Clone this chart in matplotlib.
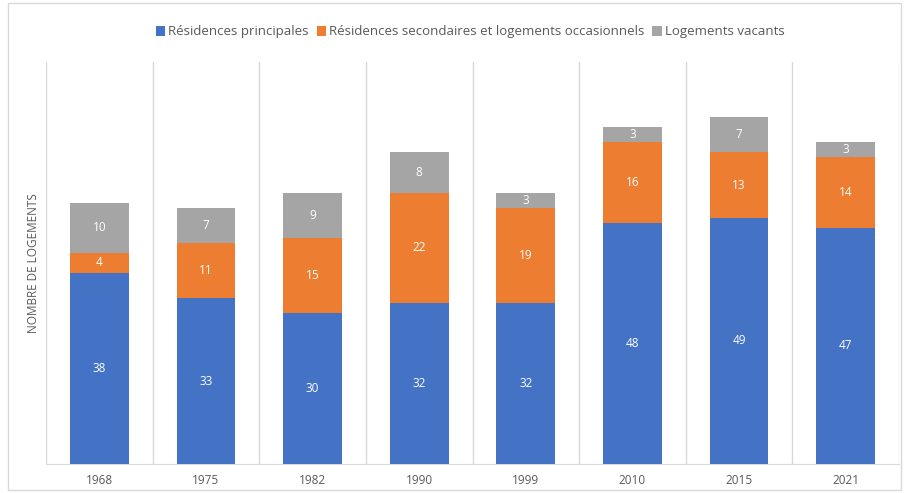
import numpy as np
import matplotlib.pyplot as plt
from matplotlib.patches import Rectangle

plt.rcParams['font.family'] = ['Open Sans', 'DejaVu Sans']

years = ["1968", "1975", "1982", "1990", "1999", "2010", "2015", "2021"]
principales = [38, 33, 30, 32, 32, 48, 49, 47]
secondaires = [4, 11, 15, 22, 19, 16, 13, 14]
vacants = [10, 7, 9, 8, 3, 3, 7, 3]

series_names = ["Résidences principales",
                "Résidences secondaires et logements occasionnels",
                "Logements vacants"]
colors = ["#4472C4", "#ED7D31", "#A5A5A5"]

fig = plt.figure(figsize=(9.06, 4.93), dpi=100)
ax = fig.add_axes([46 / 906, 29 / 493, 853 / 906, 402 / 493])

x = np.arange(len(years))
bottom = np.zeros(len(years))
handles = []
for vals, name, c in zip([principales, secondaires, vacants], series_names, colors):
    bars = ax.bar(x, vals, 0.55, bottom=bottom, color=c, label=name, zorder=3)
    handles.append(bars)
    for xi, v, b in zip(x, vals, bottom):
        ax.text(xi, b + v / 2, str(v), ha="center", va="center",
                color="white", fontsize=8.5, zorder=4)
    bottom += np.array(vals)

ax.set_xlim(-0.5, len(years) - 0.5)
ax.set_ylim(0, 80)
ax.set_yticks([])
ax.set_xticks(x)
ax.set_xticklabels(years, fontsize=8.5, color="#595959")
ax.tick_params(axis="x", length=0, pad=7)

# vertical separators between categories
for b in np.arange(-0.5, len(years), 1):
    ax.axvline(b, color="#D9D9D9", lw=1, zorder=1)

for s in ["top", "right", "left"]:
    ax.spines[s].set_visible(False)
ax.spines["bottom"].set_color("#D9D9D9")

ax.set_ylabel("NOMBRE DE LOGEMENTS", fontsize=8.5, color="#595959", labelpad=4)

fig.legend(handles=handles, labels=series_names, loc="center",
           bbox_to_anchor=(0.519, 1 - 32 / 493), ncol=3, frameon=False,
           fontsize=9.5, handlelength=0.7, handleheight=0.7,
           handletextpad=0.25, columnspacing=0.6, labelcolor="#595959")

fig.patches.append(Rectangle((8 / 906, 3 / 493), 893 / 906, 487 / 493,
                             transform=fig.transFigure, fill=False,
                             edgecolor="#D9D9D9", lw=1))

fig.savefig("out.png", dpi=100)
